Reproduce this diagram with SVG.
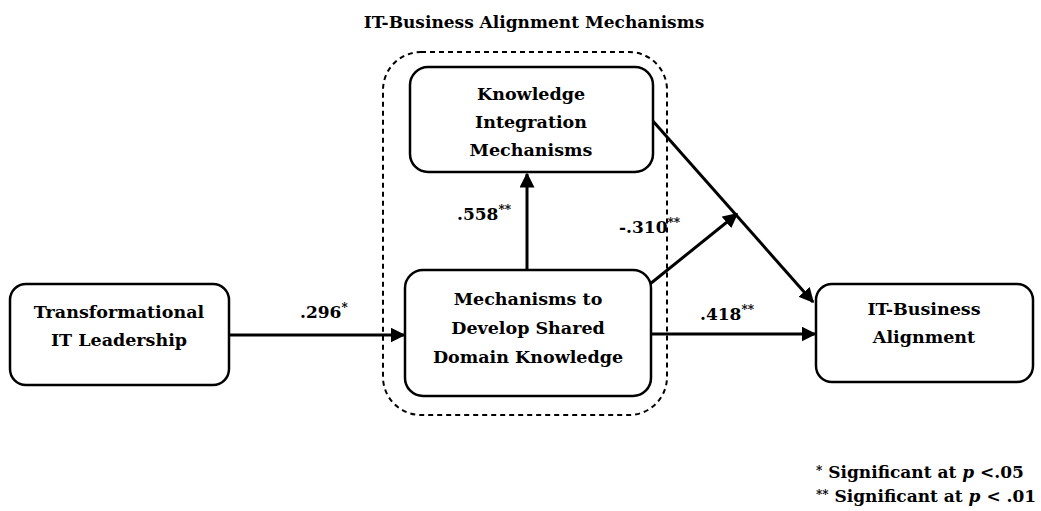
<svg xmlns="http://www.w3.org/2000/svg" width="1041" height="511" viewBox="0 0 1041 511">
<style>
.box{fill:#fff;stroke:#000;stroke-width:2.5}
.t{font-family:"DejaVu Serif","Liberation Serif",serif;font-weight:bold;font-size:17.5px;fill:#000;text-anchor:middle}
.title{font-family:"DejaVu Serif","Liberation Serif",serif;font-weight:bold;font-size:17px;fill:#000;text-anchor:middle}
.lbl{font-family:"DejaVu Serif","Liberation Serif",serif;font-weight:bold;font-size:17px;fill:#000}
.sup{font-size:12px}
.leg{font-family:"DejaVu Serif","Liberation Serif",serif;font-weight:bold;font-size:17px;fill:#000}
.c{stroke:#000;stroke-width:3;fill:none}
</style>
<defs>
<marker id="ah" viewBox="0 0 10 10" refX="9" refY="5" markerWidth="5" markerHeight="5" orient="auto" markerUnits="strokeWidth">
<path d="M0,0 L10,5 L0,10 z" fill="#000"/>
</marker>
</defs>
<rect width="1041" height="511" fill="#fff"/>
<text class="title" x="534" y="28">IT-Business Alignment Mechanisms</text>
<g id="group">
<rect x="383" y="52" width="284" height="363" rx="38" fill="none" stroke="#000" stroke-width="2" stroke-dasharray="5,4"/>
</g>
<g id="connectors">
<line class="c" x1="229" y1="335" x2="404" y2="335" marker-end="url(#ah)"/>
<line class="c" x1="527" y1="270" x2="527" y2="174" marker-end="url(#ah)"/>
<line class="c" x1="652" y1="120" x2="813" y2="302" marker-end="url(#ah)"/>
<line class="c" x1="650" y1="284" x2="737" y2="214" marker-end="url(#ah)"/>
<line class="c" x1="651" y1="334" x2="815" y2="334" marker-end="url(#ah)"/>
<text class="lbl" x="300" y="318">.296<tspan class="sup" dy="-6">*</tspan></text>
<text class="lbl" x="457" y="220">.558<tspan class="sup" dy="-6">**</tspan></text>
<text class="lbl" x="619" y="233">-.310<tspan class="sup" dy="-6">**</tspan></text>
<text class="lbl" x="700" y="320">.418<tspan class="sup" dy="-6">**</tspan></text>
</g>
<g id="transformational">
<rect class="box" x="10" y="284" width="219" height="101" rx="16"/>
<text class="t" x="119" y="318">Transformational</text>
<text class="t" x="119" y="346">IT Leadership</text>
</g>
<g id="knowledge">
<rect class="box" x="410" y="67" width="243" height="105" rx="18"/>
<text class="t" x="531" y="100">Knowledge</text>
<text class="t" x="531" y="128">Integration</text>
<text class="t" x="531" y="156">Mechanisms</text>
</g>
<g id="mechanisms">
<rect class="box" x="405" y="270" width="246" height="126" rx="18"/>
<text class="t" x="528" y="305">Mechanisms to</text>
<text class="t" x="528" y="334">Develop Shared</text>
<text class="t" x="528" y="363">Domain Knowledge</text>
</g>
<g id="alignment">
<rect class="box" x="816" y="284" width="217" height="98" rx="16"/>
<text class="t" x="924" y="315">IT-Business</text>
<text class="t" x="924" y="343">Alignment</text>
</g>
<g id="legend">
<text class="leg" x="816" y="478"><tspan class="sup" dy="-3">*</tspan><tspan dy="3"> Significant at </tspan><tspan font-style="italic">p</tspan> &lt;.05</text>
<text class="leg" x="816" y="502"><tspan class="sup" dy="-3">**</tspan><tspan dy="3"> Significant at </tspan><tspan font-style="italic">p</tspan> &lt; .01</text>
</g>
</svg>
